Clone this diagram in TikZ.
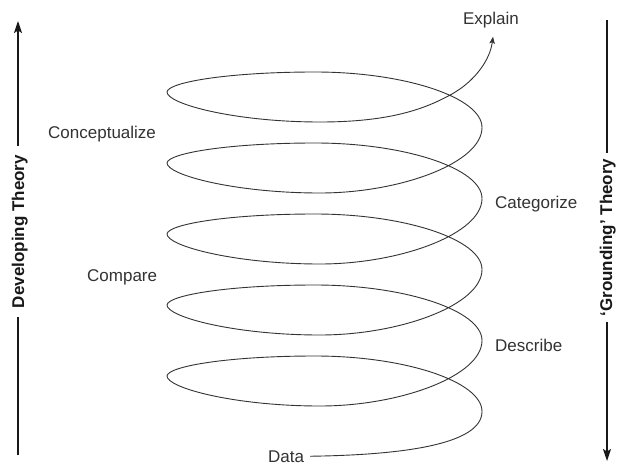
\documentclass[tikz,border=0pt]{standalone}
\usepackage{fontspec}
\setmainfont{Liberation Sans}
\usetikzlibrary{arrows.meta}
\begin{document}
\begin{tikzpicture}[x=1pt,y=-1pt,
  lbl/.style={font=\fontsize{17}{20}\selectfont, text=black!80, inner sep=0pt},
  sidelbl/.style={font=\bfseries\fontsize{17}{20}\selectfont, text=black!90, rotate=90, anchor=base, inner ysep=0pt},
  spiral/.style={draw=black!80, line width=0.9pt},
  sidearrow/.style={draw=black!90, line width=1.4pt},
  bigtip/.style={-{Stealth[length=12pt,width=8pt,inset=2.5pt]}}]
\useasboundingbox (0,0) rectangle (617,465);
\fill[white] (0,0) rectangle (617,465);

% labels
\node[lbl, anchor=base west] (concept) at (48,139) {Conceptualize};
\node[lbl, anchor=base west] (compare) at (87,281) {Compare};
\node[lbl, anchor=base west] (categ) at (495,208) {Categorize};
\node[lbl, anchor=base west] (describe) at (495,351) {Describe};
\node[lbl, anchor=base, inner ysep=3pt] (explain) at (491,25) {Explain};
\node[lbl, anchor=base, inner xsep=6pt] (data) at (286,462) {Data};

% side labels
\node[sidelbl, inner xsep=9pt] (devtext) at (24,231.5) {Developing Theory};
\node[sidelbl, inner xsep=5pt] (grtext) at (612,237.5) {‘Grounding’ Theory};
\coordinate (lbot) at (18,455);
\coordinate (ltop) at (18,21);
\coordinate (rtop) at (607,20);
\coordinate (rbot) at (607,461);

\draw[sidearrow] (lbot) -- (devtext.west -| lbot);
\draw[sidearrow,bigtip] (devtext.east -| ltop) -- (ltop);
\draw[sidearrow] (rtop) -- (grtext.east -| rtop);
\draw[sidearrow,bigtip] (grtext.west -| rbot) -- (rbot);

% spiral
\draw[spiral,-{Stealth[length=7pt,width=5.5pt,inset=1.5pt]}]
  (data.east) .. controls (400,455) and (482,445) .. (482,411.5)
  % loop 5 (T=376)
  .. controls (482,381.5) and (405,356) .. (315,356)
  .. controls (230,356) and (168,366) .. (167,376)
  .. controls (167,388) and (235,406) .. (320,406)
  .. controls (400,406) and (482,376) .. (482,340.5)
  % loop 4 (T=305)
  .. controls (482,310.5) and (405,285) .. (315,285)
  .. controls (230,285) and (168,295) .. (167,305)
  .. controls (167,317) and (235,335) .. (320,335)
  .. controls (400,335) and (482,305) .. (482,269.5)
  % loop 3 (T=234)
  .. controls (482,239.5) and (405,214) .. (315,214)
  .. controls (230,214) and (168,224) .. (167,234)
  .. controls (167,246) and (235,264) .. (320,264)
  .. controls (400,264) and (482,234) .. (482,198.5)
  % loop 2 (T=163)
  .. controls (482,168.5) and (405,143) .. (315,143)
  .. controls (230,143) and (168,153) .. (167,163)
  .. controls (167,175) and (235,193) .. (320,193)
  .. controls (400,193) and (482,163) .. (482,127.5)
  % loop 1 (T=92)
  .. controls (482,97.5) and (405,72) .. (315,72)
  .. controls (230,72) and (168,82) .. (167,92)
  .. controls (167,104) and (235,122) .. (320,122)
  .. controls (390,122) and (425,109) .. (452,94)
  .. controls (475,81) and (490,60) .. ([xshift=2pt,yshift=-5pt]explain.south);
\end{tikzpicture}
\end{document}
